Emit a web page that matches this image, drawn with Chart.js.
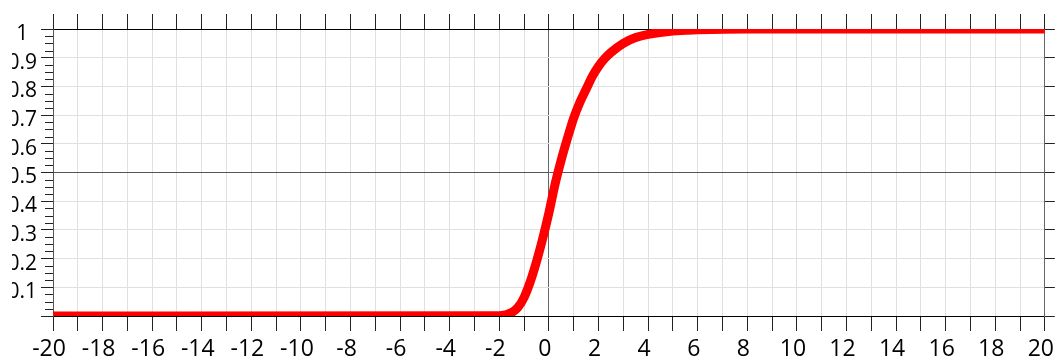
<!DOCTYPE html>
<html>
<head>
<meta charset="utf-8">
<script src="https://cdn.jsdelivr.net/npm/chart.js@4"></script>
<style>
  body { margin: 0; background: #fff; }
  #wrap { width: 1063px; height: 363px; position: relative; }
</style>
</head>
<body>
<div id="wrap"><canvas id="myChart"></canvas></div>
<script>
// values
const xValues = [-20, -2, -1.5, -1.25, -1, -0.75, -0.5, -0.25, 0, 0.25, 0.5, 0.75, 1, 1.25, 1.5, 1.75, 2, 2.25, 2.5, 3, 3.5, 4, 5, 6, 8, 20];
const yValues = [0, 0.001, 0.012, 0.03, 0.065, 0.12, 0.19, 0.27, 0.36, 0.46, 0.545, 0.62, 0.69, 0.745, 0.79, 0.835, 0.87, 0.897, 0.918, 0.95, 0.97, 0.981, 0.993, 0.997, 1, 1];
const yLabels = ['', '0.1', '0.2', '0.3', '0.4', '0.5', '0.6', '0.7', '0.8', '0.9', '1'];

const isMajor = v => Math.abs(v * 10 - Math.round(v * 10)) < 1e-6;

const minorTicks = {
  id: 'minorTicks',
  afterDraw(chart) {
    const ctx = chart.ctx;
    const ys = chart.scales.y;
    ctx.save();
    ctx.strokeStyle = '#222';
    ctx.lineWidth = 1;
    ys.ticks.forEach(t => {
      if (!isMajor(t.value)) {
        const py = Math.round(ys.getPixelForValue(t.value)) + 0.5;
        ctx.beginPath();
        ctx.moveTo(ys.right - 8, py);
        ctx.lineTo(ys.right, py);
        ctx.stroke();
      }
    });
    // the reference crops the left edge of the y labels
    ctx.clearRect(0, 0, 12, chart.chartArea.bottom + 6);
    ctx.restore();
  }
};

const ctx = document.getElementById('myChart').getContext('2d');
new Chart(ctx, {
  type: 'line',
  data: {
    datasets: [{
      data: xValues.map((x, i) => ({ x: x, y: yValues[i] })),
      borderColor: '#ff0000',
      borderWidth: 9,
      pointRadius: 0,
      fill: false,
      cubicInterpolationMode: 'monotone'
    }]
  },
  options: {
    responsive: true,
    maintainAspectRatio: false,
    animation: false,
    layout: { padding: 0 },
    plugins: { legend: { display: false }, tooltip: { enabled: false } },
    scales: {
      x: {
        type: 'linear',
        position: 'bottom',
        min: -20,
        max: 20,
        afterFit: s => { s.height = 47; },
        ticks: {
          stepSize: 1,
          autoSkip: false,
          maxRotation: 0,
          padding: 5,
          labelOffset: -4,
          color: '#000',
          font: { family: 'Open Sans', size: 23 },
          callback: v => (v % 2 === 0 ? String(v) : '')
        },
        grid: {
          color: c => (c.tick.value === 0 ? '#666' : (Math.abs(c.tick.value) === 20 ? '#666' : '#e0e0e0')),
          tickColor: '#222',
          tickLength: 15
        },
        border: { display: true, color: '#000' }
      },
      xTop: {
        type: 'linear',
        position: 'top',
        min: -20,
        max: 20,
        afterFit: s => { s.height = 29; },
        ticks: { stepSize: 1, display: false, autoSkip: false },
        grid: { drawOnChartArea: false, tickColor: '#222', tickLength: 15 },
        border: { display: true, color: '#000' }
      },
      y: {
        position: 'left',
        min: 0,
        max: 1,
        afterFit: s => { s.width = 53; },
        ticks: {
          stepSize: 0.025,
          autoSkip: false,
          crossAlign: 'center',
          padding: 4,
          labelOffset: 5,
          color: '#000',
          font: { family: 'Open Sans', size: 21 },
          callback: v => (isMajor(v) ? yLabels[Math.round(v * 10)] : '')
        },
        grid: {
          color: c => {
            const v = c.tick.value;
            if (!isMajor(v)) return 'rgba(0,0,0,0)';
            if (v === 0 || v === 1) return '#000';
            if (Math.abs(v - 0.5) < 1e-6) return '#555';
            return '#e0e0e0';
          },
          tickColor: c => (isMajor(c.tick.value) ? '#222' : 'rgba(0,0,0,0)'),
          tickLength: 12
        },
        border: { display: true, color: '#555' }
      },
      yRight: {
        position: 'right',
        min: 0,
        max: 1,
        afterFit: s => { s.width = 10; },
        ticks: { stepSize: 0.1, display: false },
        grid: { drawOnChartArea: false, tickColor: '#222', tickLength: 10 },
        border: { display: true, color: '#666' }
      }
    }
  },
  plugins: [minorTicks]
});
</script>
</body>
</html>
